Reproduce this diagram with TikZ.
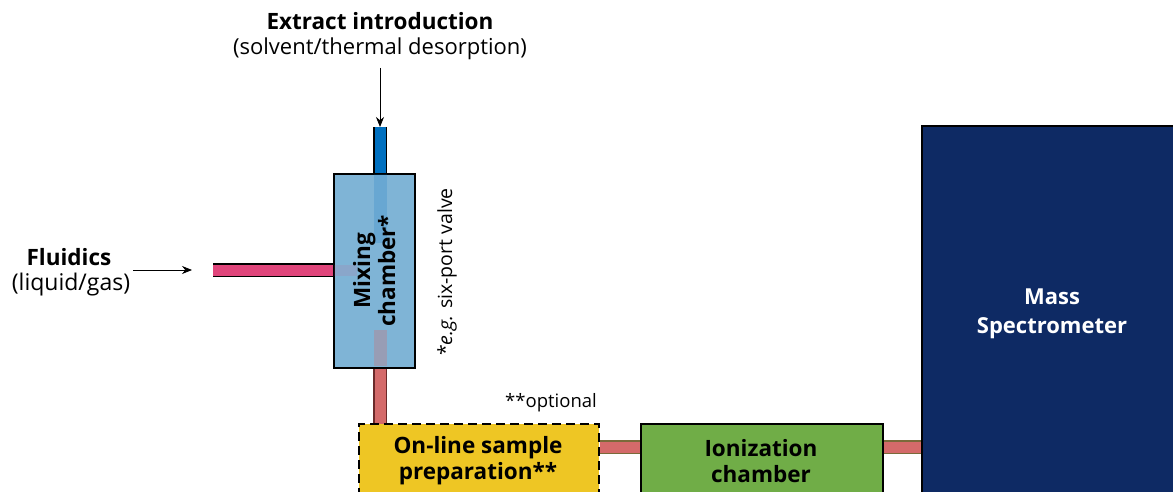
\documentclass[tikz,border=0pt]{standalone}
\usepackage{fontspec}
\setmainfont{Open Sans}
\usetikzlibrary{arrows.meta}
\definecolor{mixblue}{HTML}{7FB4D6}
\definecolor{tubeblue}{HTML}{0070C0}
\definecolor{tubepink}{HTML}{E0457B}
\definecolor{tubesalmon}{HTML}{D46A6A}
\definecolor{tubeborder}{HTML}{6B2A2A}
\definecolor{oliveborder}{HTML}{7A6A3A}
\definecolor{prepyellow}{HTML}{EEC624}
\definecolor{iongreen}{HTML}{70AD47}
\definecolor{msnavy}{HTML}{0E2A64}
\tikzset{
  boxstyle/.style={draw=black, line width=1.6pt, inner sep=0pt},
  tube/.style={line width=1.3pt, double distance=11pt, line cap=butt},
  lbl/.style={font=\fontsize{22}{28}\selectfont, align=center, inner sep=0pt},
  blbl/.style={font=\bfseries\fontsize{22.5}{26}\selectfont, align=center, inner sep=0pt},
  arr/.style={-{Stealth[length=10pt,width=8pt]}, line width=0.8pt}
}
\begin{document}
\begin{tikzpicture}[x=1pt,y=-1pt]
\useasboundingbox (0,0) rectangle (1173,492);
\clip (0,0) rectangle (1173,492);
\coordinate (bluetop) at (380,127);
\coordinate (pinkleft) at (213,270);
% tubes outside the chamber
\draw[tube, draw=black, double=tubeblue] (bluetop) -- (380,174);
\draw[tube, draw=black, double=tubepink] (pinkleft) -- (334,270);
\draw[tube, draw=tubeborder, double=tubesalmon] (380,366) -- (380,424);
% mixing chamber
\node[boxstyle, fill=mixblue, minimum width=81pt, minimum height=194pt, anchor=north west] (mix) at (333,173) {};
% tube parts seen through the chamber
\fill[tubeblue, opacity=0.18] (373.5,174) rectangle (386.5,243);
\fill[tubepink, opacity=0.12] (334,264.5) rectangle (357,275.5);
\fill[tubesalmon, opacity=0.3] (373.5,330) rectangle (386.5,366);
\node[blbl, rotate=90, font=\bfseries\fontsize{22.5}{25}\selectfont] (mixlbl) at (mix.center) {Mixing\\chamber*};
\node[lbl, rotate=90, font=\fontsize{19.5}{24}\selectfont] (valve) at (447,272) {*\textit{e.g.} six-port valve};
% prep box
\node[boxstyle, dash pattern=on 9pt off 5pt, fill=prepyellow, minimum width=240pt, minimum height=100pt, anchor=north west] (prep) at (358,423) {};
\node[blbl, anchor=center] (preplbl) at (478,461) {On-line sample\\preparation**};
\node[lbl, anchor=center, font=\fontsize{18.5}{22}\selectfont] (opt) at (551,403) {**optional};
% ionization
\node[boxstyle, fill=iongreen, minimum width=242pt, minimum height=100pt, anchor=north west] (ion) at (640,423) {};
\node[blbl, anchor=center] (ionlbl) at (761,461) {Ionization\\chamber};
% mass spec
\node[boxstyle, fill=msnavy, minimum width=280pt, minimum height=400pt, anchor=north west] (ms) at (921,125) {};
\node[blbl, text=white, font=\bfseries\fontsize{22}{29}\selectfont] (mslbl) at (1052,314) {Mass\\Spectrometer};
% connecting tubes
\draw[tube, draw=oliveborder, double=tubesalmon] (prep.east |- 0,447) -- (ion.west |- 0,447);
\draw[tube, draw=oliveborder, double=tubesalmon] (ion.east |- 0,447) -- (ms.west |- 0,447);
% labels
\node[blbl] (extract) at (380,21) {Extract introduction};
\node[lbl] (extractsub) at (380,49) {(solvent/thermal desorption)};
\node[blbl] (fluid) at (69,257) {Fluidics};
\node[lbl, font=\fontsize{23}{28}\selectfont] (fluidsub) at (71,285) {(liquid/gas)};
% arrows
\draw[arr] (380,68) -- (bluetop);
\draw[arr] (133,270) -- (192,270);
\end{tikzpicture}
\end{document}
